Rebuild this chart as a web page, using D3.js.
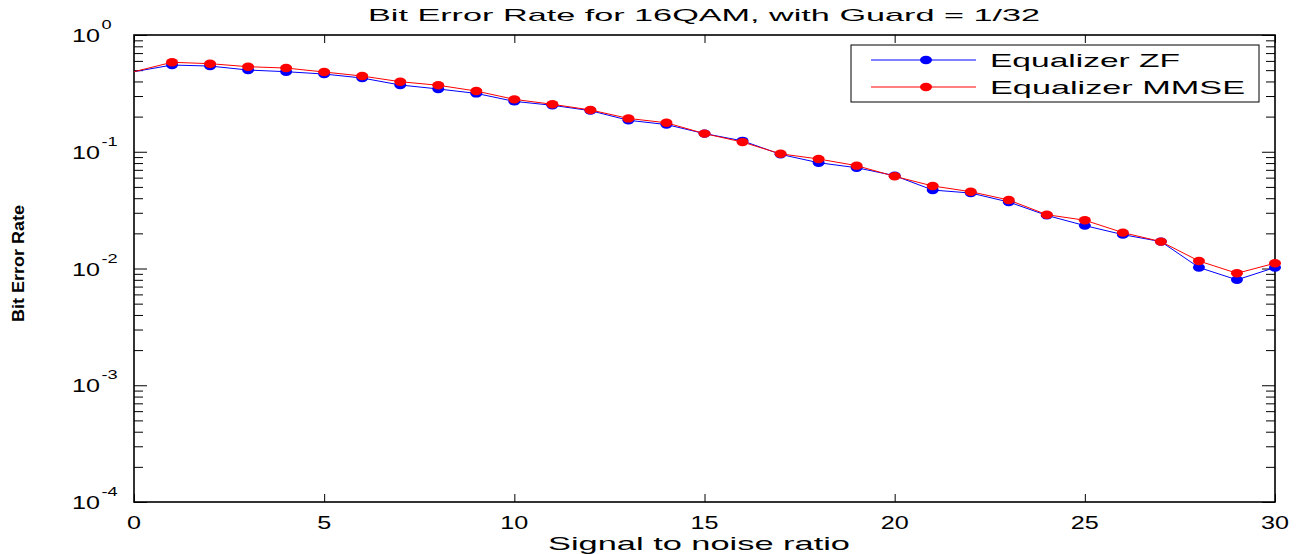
<!DOCTYPE html>
<html>
<head>
<meta charset="utf-8">
<script src="https://cdn.jsdelivr.net/npm/d3@7"></script>
<style>
  body { margin: 0; background: #fff; }
  svg { display: block; font-family: "Liberation Sans", Arial, Helvetica, sans-serif; }
</style>
</head>
<body>
<svg width="1301" height="554"></svg>
<script>
// chart data
const snr = [0, 1, 2, 3, 4, 5, 6, 7, 8, 9, 10, 11, 12, 13, 14, 15, 16, 17, 18, 19, 20, 21, 22, 23, 24, 25, 26, 27, 28, 29, 30];
const berZF = [0.485, 0.553, 0.542, 0.501, 0.485, 0.463, 0.428, 0.373, 0.345, 0.316, 0.270, 0.250, 0.225, 0.186, 0.171, 0.143, 0.124, 0.095, 0.0805, 0.073, 0.0624, 0.047, 0.0443, 0.0371, 0.0285, 0.0233, 0.0195, 0.0170, 0.0102, 0.0080, 0.0102];
const berMMSE = [0.485, 0.584, 0.568, 0.535, 0.521, 0.482, 0.445, 0.398, 0.371, 0.331, 0.281, 0.255, 0.228, 0.193, 0.177, 0.143, 0.121, 0.096, 0.0867, 0.076, 0.0616, 0.0509, 0.0455, 0.0386, 0.0289, 0.0259, 0.0203, 0.0170, 0.0116, 0.0091, 0.0111];
const xTicks = [0, 5, 10, 15, 20, 25, 30];
const yExponents = [0, -1, -2, -3, -4];
const seriesNames = ["Equalizer ZF", "Equalizer MMSE"];
const seriesColors = ["#0000ff", "#ff0000"];

const svg = d3.select("svg");
const plotLeft = 134, plotRight = 1275, plotTop = 35, plotBottom = 502;

const x = d3.scaleLinear().domain([0, 30]).range([plotLeft, plotRight]);
const y = d3.scaleLog().domain([1e-4, 1]).range([plotBottom, plotTop]);

// minor ticks 2..9 in every decade
const minor = [];
yExponents.slice(1).forEach((e) => {
  for (let k = 2; k <= 9; k++) minor.push(k * Math.pow(10, e));
});
const major = yExponents.map((e) => Math.pow(10, e));

function tickStyle(g) {
  g.select(".domain").remove();
  g.selectAll("line").attr("stroke", "#000").attr("stroke-width", 1);
  g.selectAll("text").remove();
}

svg.append("g").attr("transform", `translate(0,${plotBottom})`)
  .call(d3.axisBottom(x).tickValues(xTicks).tickSize(-8)).call(tickStyle);
svg.append("g").attr("transform", `translate(0,${plotTop})`)
  .call(d3.axisTop(x).tickValues(xTicks).tickSize(-8)).call(tickStyle);
svg.append("g").attr("transform", `translate(${plotLeft},0)`)
  .call(d3.axisLeft(y).tickValues(minor).tickSize(-9)).call(tickStyle);
svg.append("g").attr("transform", `translate(${plotLeft},0)`)
  .call(d3.axisLeft(y).tickValues(major).tickSize(-13)).call(tickStyle);
svg.append("g").attr("transform", `translate(${plotRight},0)`)
  .call(d3.axisRight(y).tickValues(minor).tickSize(-9)).call(tickStyle);
svg.append("g").attr("transform", `translate(${plotRight},0)`)
  .call(d3.axisRight(y).tickValues(major).tickSize(-13)).call(tickStyle);

// axes box
svg.append("rect")
  .attr("x", plotLeft).attr("y", plotTop)
  .attr("width", plotRight - plotLeft).attr("height", plotBottom - plotTop)
  .attr("fill", "none").attr("stroke", "#000").attr("stroke-width", 1.6);

// x tick labels (stretched like the source picture)
svg.append("g").selectAll("text").data(xTicks).join("text")
  .attr("transform", (d) => `translate(${x(d)},529) scale(1.4,1)`)
  .attr("text-anchor", "middle")
  .attr("font-size", 18)
  .text((d) => d);

// y tick labels: 10 with superscript exponent
const yl = svg.append("g").selectAll("text").data(yExponents).join("text")
  .attr("transform", (d) => `translate(72,${y(Math.pow(10, d)) + 7}) scale(1.4,1)`)
  .attr("font-size", 18);
yl.append("tspan").text("10");
yl.append("tspan").attr("dy", -13).attr("dx", 1).attr("font-size", 13).text((d) => d);

// series
const series = [berZF, berMMSE].map((vals, i) => ({
  name: seriesNames[i],
  color: seriesColors[i],
  points: snr.map((s, j) => ({ x: s, y: vals[j] }))
}));

const line = d3.line().x((d) => x(d.x)).y((d) => y(d.y));
const plot = svg.append("g");

series.forEach((s) => {
  const g = plot.append("g");
  g.append("path").datum(s.points)
    .attr("d", line).attr("fill", "none")
    .attr("stroke", s.color).attr("stroke-width", 1);
  // the picture shows no marker at snr = 0
  g.selectAll("ellipse").data(s.points.slice(1)).join("ellipse")
    .attr("cx", (d) => x(d.x)).attr("cy", (d) => y(d.y))
    .attr("rx", 6).attr("ry", 4.2).attr("fill", s.color);
});

// legend
const legend = svg.append("g");
legend.append("rect")
  .attr("x", 851).attr("y", 45).attr("width", 408).attr("height", 57)
  .attr("fill", "#fff").attr("stroke", "#000").attr("stroke-width", 1);
const legendLengths = [190, 255];
series.forEach((s, i) => {
  const ly = 60 + i * 27;
  legend.append("line").attr("x1", 871).attr("x2", 976)
    .attr("y1", ly).attr("y2", ly).attr("stroke", s.color).attr("stroke-width", 1);
  legend.append("ellipse").attr("cx", 926).attr("cy", ly)
    .attr("rx", 6).attr("ry", 4.2).attr("fill", s.color);
  legend.append("text").attr("x", 990).attr("y", ly + 7)
    .attr("font-size", 19)
    .attr("textLength", legendLengths[i]).attr("lengthAdjust", "spacingAndGlyphs")
    .text(s.name);
});

// title and axis labels
svg.append("text").attr("x", 368).attr("y", 21)
  .attr("font-size", 17)
  .attr("textLength", 672).attr("lengthAdjust", "spacingAndGlyphs")
  .text("Bit Error Rate for 16QAM, with Guard = 1/32");

svg.append("text").attr("x", 548).attr("y", 550)
  .attr("font-size", 19)
  .attr("textLength", 302).attr("lengthAdjust", "spacingAndGlyphs")
  .text("Signal to noise ratio");

svg.append("text")
  .attr("transform", "translate(24,322) rotate(-90)")
  .attr("font-size", 17).attr("font-weight", "bold")
  .attr("textLength", 117).attr("lengthAdjust", "spacingAndGlyphs")
  .text("Bit Error Rate");
</script>
</body>
</html>
